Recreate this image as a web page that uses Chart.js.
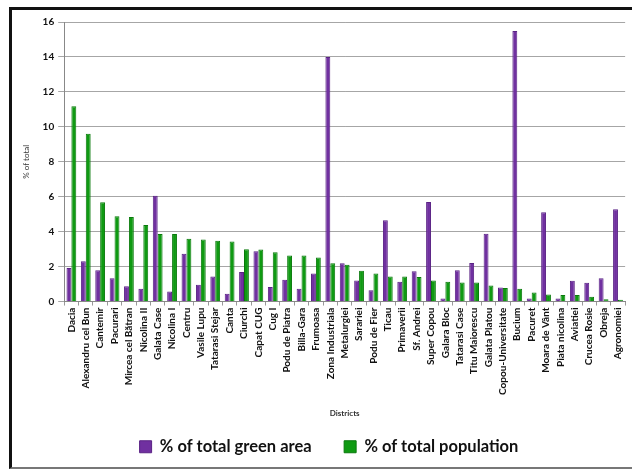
<!DOCTYPE html>
<html>
<head>
<meta charset="utf-8">
<script src="https://cdn.jsdelivr.net/npm/chart.js@4"></script>
<style>
  html, body { margin: 0; padding: 0; background: #fff; }
  #wrap { position: relative; width: 632px; height: 470px; overflow: hidden; }
  #frame {
    position: absolute; left: 9px; top: 7px; width: 640px; height: 457px;
    border-left: 3px solid #111; border-top: 3px solid #111; border-bottom: 2px solid #777;
  }
  #chart { position: absolute; left: 0; top: 0; }
</style>
</head>
<body>
<div id="wrap">
  <div id="frame"></div>
  <canvas id="chart" width="632" height="470"></canvas>
</div>
<script>
// --- data ---
const districts = [
  'Dacia', 'Alexandru cel Bun', 'Cantemir', 'Pacurari', 'Mircea cel Bătran', 'Nicolina II',
  'Galata Case', 'Nicolina I', 'Centru', 'Vasile Lupu', 'Tatarasi Stejar', 'Canta', 'Ciurchi',
  'Capat CUG', 'Cug I', 'Podu de Piatra', 'Billa-Gara', 'Frumoasa', 'Zona Industriala',
  'Metalurgiei', 'Sarariei', 'Podu de Fier', 'Ticau', 'Primaverii', 'Sf. Andrei', 'Super Copou',
  'Galara Bloc', 'Tatarasi Case', 'Titu Maiorescu', 'Galata Platou', 'Copou-Universitate',
  'Bucium', 'Pacuret', 'Moara de Vânt', 'Piata nicolina', 'Aviatiei', 'Crucea Rosie', 'Obreja',
  'Agronomiei'
];
const greenArea = [
  1.92, 2.30, 1.79, 1.33, 0.88, 0.73,
  6.05, 0.58, 2.73, 0.96, 1.44, 0.44, 1.69,
  2.88, 0.84, 1.25, 0.73, 1.61, 14.0,
  2.19, 1.21, 0.65, 4.65, 1.13, 1.73, 5.70,
  0.17, 1.79, 2.21, 3.88, 0.81,
  15.48, 0.17, 5.11, 0.17, 1.19, 1.08, 1.33,
  5.28
];
const population = [
  11.18, 9.60, 5.69, 4.88, 4.84, 4.38,
  3.86, 3.86, 3.59, 3.55, 3.48, 3.44, 3.00,
  2.98, 2.82, 2.63, 2.63, 2.52, 2.19,
  2.11, 1.77, 1.61, 1.44, 1.44, 1.40, 1.20,
  1.13, 1.09, 1.09, 0.92, 0.77,
  0.73, 0.52, 0.40, 0.37, 0.37, 0.27, 0.13,
  0.11
];
const seriesNames = ['% of total green area', '% of total population'];
const yMax = 16;
const yStep = 2;

const FONT = 'Lato, "Liberation Sans", sans-serif';

// nudge the legend a little to the right, as in the original
const legendShift = {
  id: 'legendShift',
  afterLayout(chart) {
    if (chart.legend) {
      chart.legend.left += 5;
      chart.legend.right += 5;
    }
  }
};

const ctx = document.getElementById('chart').getContext('2d');
new Chart(ctx, {
  type: 'bar',
  data: {
    labels: districts,
    datasets: [
      { label: seriesNames[0], data: greenArea, backgroundColor: '#7030a0', borderColor: '#5a2285', borderWidth: 1 },
      { label: seriesNames[1], data: population, backgroundColor: '#0f9a12', borderColor: '#0a7a0c', borderWidth: 1 }
    ]
  },
  options: {
    responsive: false,
    animation: false,
    layout: { padding: { left: 19, right: 3, top: 22, bottom: 5 } },
    datasets: { bar: { categoryPercentage: 0.68, barPercentage: 1.0 } },
    plugins: {
      legend: {
        position: 'bottom',
        labels: {
          boxWidth: 12, boxHeight: 12, padding: 12,
          color: '#111',
          font: { family: FONT, size: 16.5, weight: 'bold' },
          // wider gap between the two items, like the original
          generateLabels: (chart) => {
            const items = Chart.defaults.plugins.legend.labels.generateLabels(chart);
            items[0].text = items[0].text + '\u2002\u2002 ';
            return items;
          }
        }
      },
      tooltip: { enabled: false }
    },
    scales: {
      x: {
        grid: { display: true, drawOnChartArea: false, tickLength: 4, color: '#999' },
        border: { color: '#888' },
        ticks: {
          autoSkip: false, minRotation: 90, maxRotation: 90, padding: 2,
          color: '#111',
          font: { family: FONT, size: 10, weight: 'bold' }
        },
        title: {
          display: true, text: 'Districts', color: '#333',
          font: { family: FONT, size: 8, weight: 'bold' },
          padding: { top: 12, bottom: 8 }
        }
      },
      y: {
        min: 0, max: yMax,
        grid: { color: '#a6a6a6', tickLength: 6 },
        border: { color: '#888' },
        ticks: {
          stepSize: yStep, padding: 4, color: '#111',
          font: { family: FONT, size: 10, weight: 'bold' }
        },
        title: {
          display: true, text: '% of total', color: '#333',
          font: { family: FONT, size: 8 },
          padding: { top: 3, bottom: 7 }
        }
      }
    }
  },
  plugins: [legendShift]
});
</script>
</body>
</html>
